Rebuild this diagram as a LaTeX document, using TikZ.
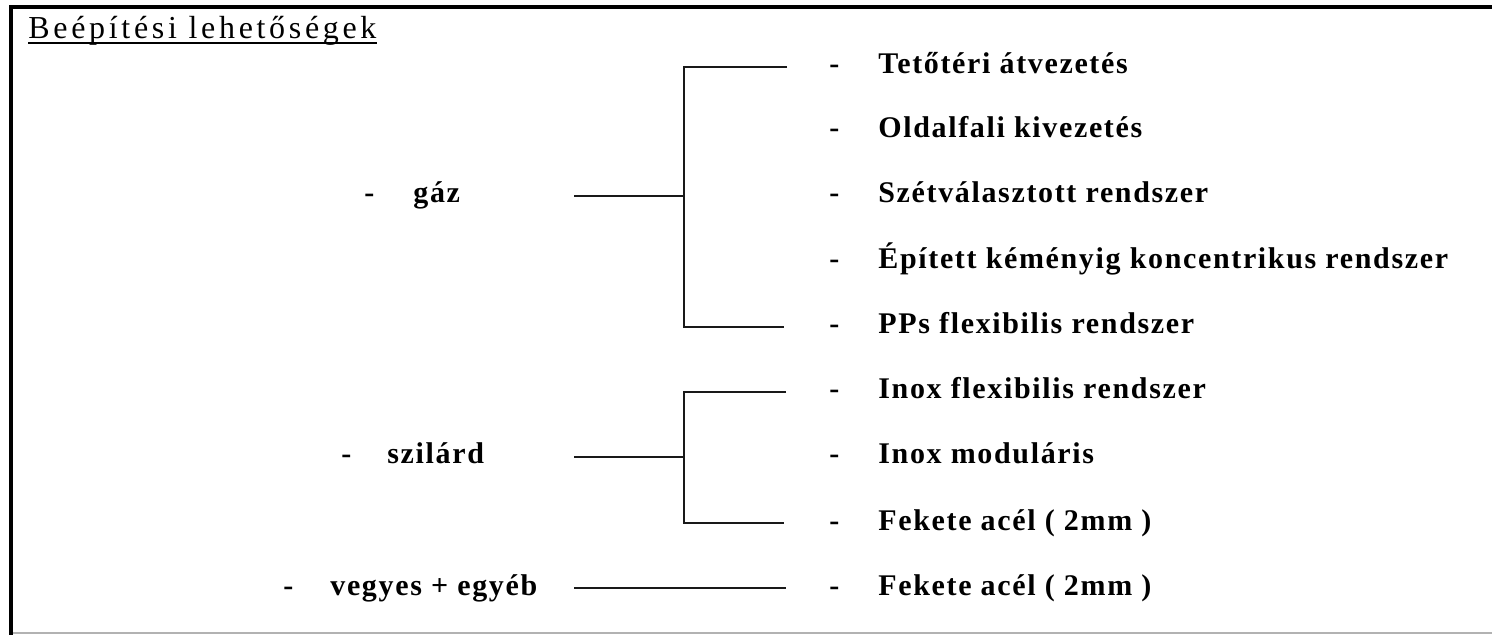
\documentclass[tikz,border=0pt]{standalone}
\usepackage{fontspec}
\setmainfont{Liberation Serif}
\newfontfamily\itemfamily[LetterSpace=5.5]{Liberation Serif}
\newfontfamily\titlefamily[LetterSpace=11.5]{Liberation Serif}
\newcommand\itemfont{\itemfamily\bfseries\fontsize{15pt}{18pt}\selectfont}
\newcommand\headfont{\titlefamily\fontsize{16pt}{19pt}\selectfont}

\begin{document}
\begin{tikzpicture}[x=0.5pt,y=-0.5pt,
  item/.style={anchor=base west,inner sep=0pt,font=\itemfont},
  dashmark/.style={anchor=base west,inner sep=0pt,font=\itemfont},
  heading/.style={anchor=base west,inner sep=0pt,font=\headfont},
  wire/.style={line width=1pt,black!90},
  frame/.style={line width=2pt,black}]
\useasboundingbox (0,0) rectangle (1492,635);

% outer frame: heavy top and left edges, faint bottom edge
\draw[frame] (11,635) -- (11,7) -- (1492,7);
\draw[line width=0.6pt,black!30] (13,633) -- (1492,633);

% heading with underline
\node[heading] (title) at (28,39) {Beépítési lehetőségek};
\draw[line width=0.8pt] ([yshift=-2pt]title.base west) -- ([yshift=-2pt]title.base east);

% fuel types
\node[dashmark] (gd) at (364,203) {-};
\node[item] (gaz) at (413,203) {gáz};
\node[dashmark] (sd) at (341,464) {-};
\node[item] (szilard) at (387,464) {szilárd};
\node[dashmark] (vd) at (283,595) {-};
\node[item] (vegyes) at (330,595) {vegyes + egyéb};

% installation options
\node[dashmark] (d1) at (829,74) {-};
\node[item] (t1) at (878,74) {Tetőtéri átvezetés};
\node[dashmark] (d2) at (829,138) {-};
\node[item] (t2) at (878,138) {Oldalfali kivezetés};
\node[dashmark] (d3) at (829,203) {-};
\node[item] (t3) at (878,203) {Szétválasztott rendszer};
\node[dashmark] (d4) at (829,269) {-};
\node[item] (t4) at (878,269) {Épített kéményig koncentrikus rendszer};
\node[dashmark] (d5) at (829,334) {-};
\node[item] (t5) at (878,334) {PPs flexibilis rendszer};
\node[dashmark] (d6) at (829,399) {-};
\node[item] (t6) at (878,399) {Inox flexibilis rendszer};
\node[dashmark] (d7) at (829,464) {-};
\node[item] (t7) at (878,464) {Inox moduláris};
\node[dashmark] (d8) at (829,530) {-};
\node[item] (t8) at (878,530) {Fekete acél ( 2mm )};
\node[dashmark] (d9) at (829,595) {-};
\node[item] (t9) at (878,595) {Fekete acél ( 2mm )};

% bracket for gas
\coordinate (gazIn) at (574,196);
\coordinate (gazJ) at (684,196);
\coordinate (gazTop) at (684,67);
\coordinate (gazBot) at (684,327);
\coordinate (gazOutA) at (787,67);
\coordinate (gazOutB) at (784,327);
\draw[wire] (gazIn) -- (gazJ);
\draw[wire] (gazOutA) -- (gazTop) -- (gazBot) -- (gazOutB);

% bracket for solid fuel
\coordinate (szIn) at (574,457);
\coordinate (szJ) at (684,457);
\coordinate (szTop) at (684,392);
\coordinate (szBot) at (684,523);
\coordinate (szOutA) at (786,392);
\coordinate (szOutB) at (784,523);
\draw[wire] (szIn) -- (szJ);
\draw[wire] (szOutA) -- (szTop) -- (szBot) -- (szOutB);

% single line for mixed fuel
\coordinate (vIn) at (574,588);
\coordinate (vOut) at (786,588);
\draw[wire] (vIn) -- (vOut);
\end{tikzpicture}
\end{document}
